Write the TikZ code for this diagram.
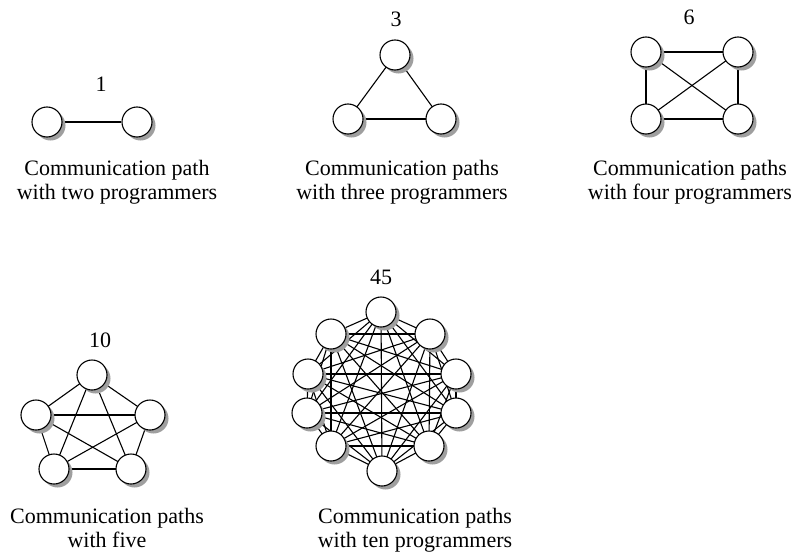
\documentclass[tikz,border=0pt]{standalone}
\usepackage{fontspec}
\setmainfont{Liberation Serif}
\usetikzlibrary{shadows, backgrounds}

\tikzset{
  person/.style={circle, draw=black, line width=1.1pt, fill=white, minimum size=30pt, inner sep=0pt,
    drop shadow={shadow xshift=3.5pt, shadow yshift=-3.5pt, fill=gray!75, opacity=1}},
  link/.style={draw=black, line width=1.1pt},
  count/.style={anchor=base, font=\fontsize{22}{24}\selectfont, inner sep=0pt},
  caption/.style={anchor=base, align=center, font=\fontsize{22}{24}\selectfont, inner sep=0pt}
}

\begin{document}
\begin{tikzpicture}[x=1pt, y=-1pt]
  \useasboundingbox (0,0) rectangle (797,554);

  % --- two programmers ---
  \node[person] (a1) at (47,122) {};
  \node[person] (a2) at (137,122) {};
  \node[count] (n1) at (101,91) {1};
  \node[caption] (t1) at (117,199) {Communication path\\with two programmers};

  % --- three programmers ---
  \node[person] (b1) at (395,55) {};
  \node[person] (b2) at (441,119) {};
  \node[person] (b3) at (348,119) {};
  \node[count] (n2) at (396,26) {3};
  \node[caption] (t2) at (402,199) {Communication paths\\with three programmers};

  % --- four programmers ---
  \node[person] (c1) at (646,52) {};
  \node[person] (c2) at (738,52) {};
  \node[person] (c3) at (738,119) {};
  \node[person] (c4) at (646,119) {};
  \node[count] (n3) at (689,24) {6};
  \node[caption] (t3) at (690,199) {Communication paths\\with four programmers};

  % --- five programmers ---
  \node[person] (d1) at (92,375) {};
  \node[person] (d2) at (150,415) {};
  \node[person] (d3) at (131,469) {};
  \node[person] (d4) at (54,469) {};
  \node[person] (d5) at (36,415) {};
  \node[count] (n4) at (100,347) {10};
  \node[caption] (t4) at (107,547) {Communication paths\\with five};

  % --- ten programmers ---
  \node[person] (e1) at (381,312) {};
  \node[person] (e2) at (430,334) {};
  \node[person] (e3) at (456,374) {};
  \node[person] (e4) at (456,413) {};
  \node[person] (e5) at (429,446) {};
  \node[person] (e6) at (382,471) {};
  \node[person] (e7) at (331,446) {};
  \node[person] (e8) at (307,413) {};
  \node[person] (e9) at (308,374) {};
  \node[person] (e10) at (331,334) {};
  \node[count] (n5) at (381,284) {45};
  \node[caption] (t5) at (415,547) {Communication paths\\with ten programmers};

  % --- every pair talks (links go under the circles) ---
  \begin{pgfonlayer}{background}
    \fill[white] (0,0) rectangle (797,554);
    \draw[link] (a1) -- (a2);
    \foreach \i in {1,...,3} \foreach \j in {\i,...,3} {\ifnum\i<\j \draw[link] (b\i.center) -- (b\j.center);\fi}
    \foreach \i in {1,...,4} \foreach \j in {\i,...,4} {\ifnum\i<\j \draw[link] (c\i.center) -- (c\j.center);\fi}
    \foreach \i in {1,...,5} \foreach \j in {\i,...,5} {\ifnum\i<\j \draw[link] (d\i.center) -- (d\j.center);\fi}
    \foreach \i in {1,...,10} \foreach \j in {\i,...,10} {\ifnum\i<\j \draw[link] (e\i.center) -- (e\j.center);\fi}
  \end{pgfonlayer}
\end{tikzpicture}
\end{document}
